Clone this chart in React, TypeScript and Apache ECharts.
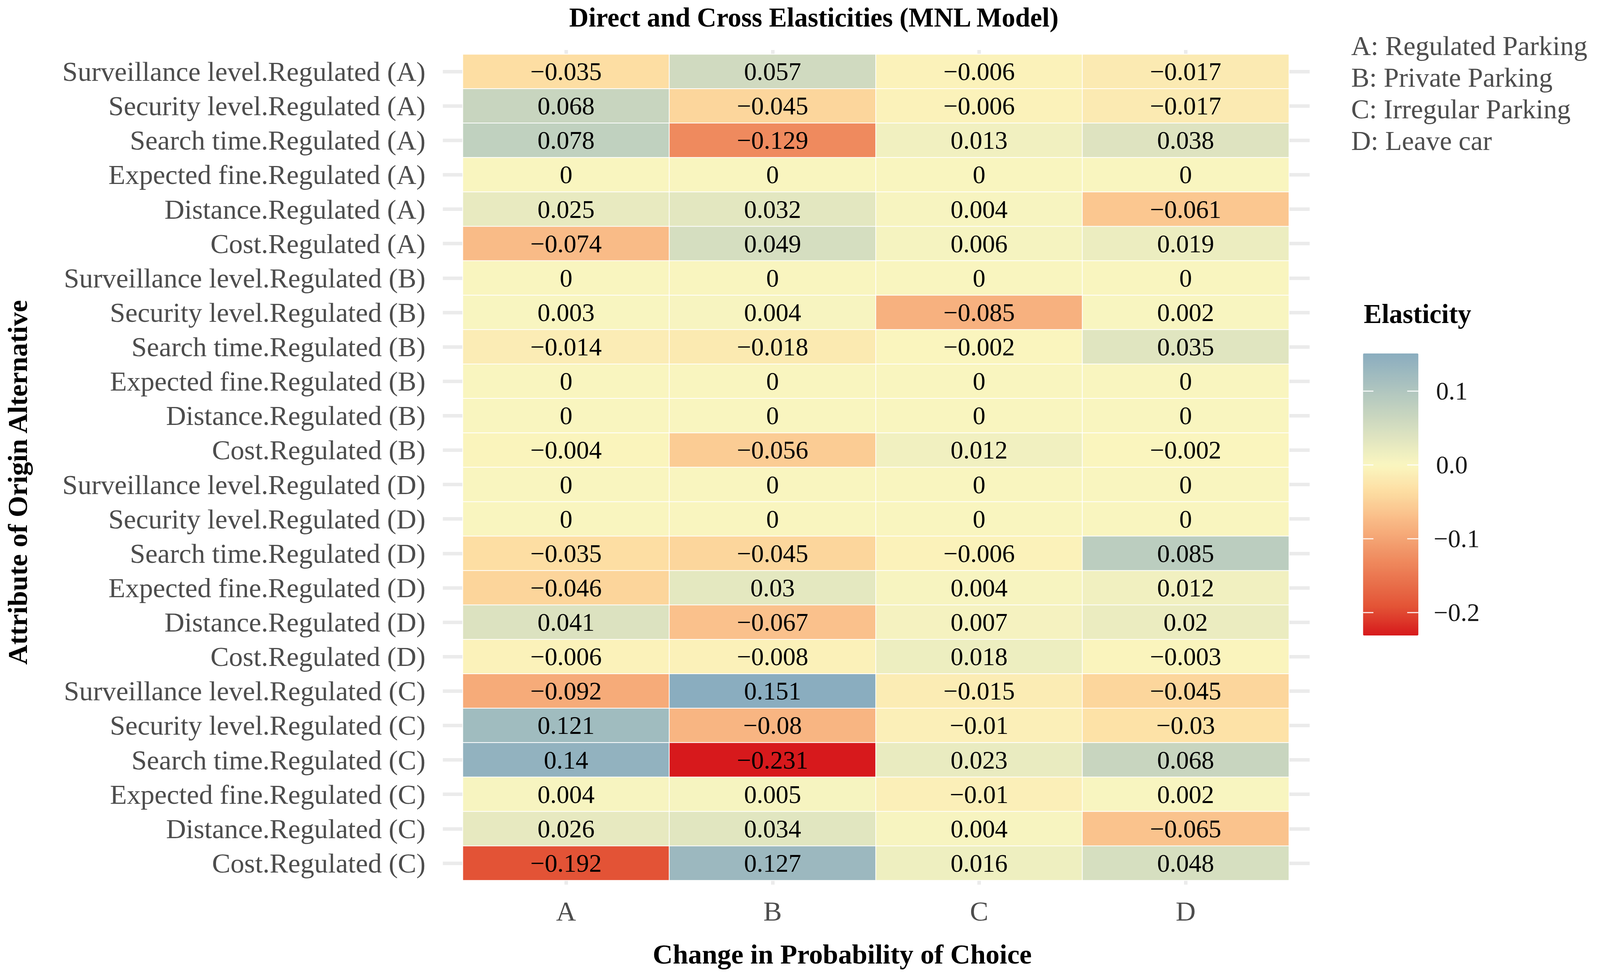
import React, { useEffect, useRef } from "react";
import * as echarts from "echarts";

// ---------------- data ----------------
const columns = ["A", "B", "C", "D"];

const rowLabels = [
  "Surveillance level.Regulated (A)",
  "Security level.Regulated (A)",
  "Search time.Regulated (A)",
  "Expected fine.Regulated (A)",
  "Distance.Regulated (A)",
  "Cost.Regulated (A)",
  "Surveillance level.Regulated (B)",
  "Security level.Regulated (B)",
  "Search time.Regulated (B)",
  "Expected fine.Regulated (B)",
  "Distance.Regulated (B)",
  "Cost.Regulated (B)",
  "Surveillance level.Regulated (D)",
  "Security level.Regulated (D)",
  "Search time.Regulated (D)",
  "Expected fine.Regulated (D)",
  "Distance.Regulated (D)",
  "Cost.Regulated (D)",
  "Surveillance level.Regulated (C)",
  "Security level.Regulated (C)",
  "Search time.Regulated (C)",
  "Expected fine.Regulated (C)",
  "Distance.Regulated (C)",
  "Cost.Regulated (C)",
];

const valuesA = [-0.035, 0.068, 0.078, 0, 0.025, -0.074, 0, 0.003, -0.014, 0, 0, -0.004, 0, 0, -0.035, -0.046, 0.041, -0.006, -0.092, 0.121, 0.14, 0.004, 0.026, -0.192];
const valuesB = [0.057, -0.045, -0.129, 0, 0.032, 0.049, 0, 0.004, -0.018, 0, 0, -0.056, 0, 0, -0.045, 0.03, -0.067, -0.008, 0.151, -0.08, -0.231, 0.005, 0.034, 0.127];
const valuesC = [-0.006, -0.006, 0.013, 0, 0.004, 0.006, 0, -0.085, -0.002, 0, 0, 0.012, 0, 0, -0.006, 0.004, 0.007, 0.018, -0.015, -0.01, 0.023, -0.01, 0.004, 0.016];
const valuesD = [-0.017, -0.017, 0.038, 0, -0.061, 0.019, 0, 0.002, 0.035, 0, 0, -0.002, 0, 0, 0.085, 0.012, 0.02, -0.003, -0.045, -0.03, 0.068, 0.002, -0.065, 0.048];

const legendNotes = ["A: Regulated Parking", "B: Private Parking", "C: Irregular Parking", "D: Leave car"];
const colorbarTicks = [0.1, 0.0, -0.1, -0.2];
const colorbarTickLabels = ["0.1", "0.0", "\u22120.1", "\u22120.2"];

const titleText = "Direct and Cross Elasticities (MNL Model)";
const xTitle = "Change in Probability of Choice";
const yTitle = "Attribute of Origin Alternative";
const legendTitle = "Elasticity";

// ---------------- colour scale (diverging, centred on 0) ----------------
// negative side: stops at fractions of the largest |value|
const NEG_FRAC = [0, 0.15, 0.32, 0.56, 0.83, 1.0];
const NEG_COLORS = ["#faf6c0", "#fddfa3", "#f9bb87", "#ef8a5e", "#e35436", "#d7191c"];
// positive side: linear from the mid colour to this colour at the largest |value|
const MID = "#faf6c0";
const HIGH = "#4f86be";

function hexToRgb(h: string) {
  const n = parseInt(h.slice(1), 16);
  return [(n >> 16) & 255, (n >> 8) & 255, n & 255];
}
function mix(A: number[], B: number[], s: number) {
  return [0, 1, 2].map((k) => A[k] + (B[k] - A[k]) * s);
}
function toHex(c: number[]) {
  return "#" + c.map((v) => Math.max(0, Math.min(255, Math.round(v))).toString(16).padStart(2, "0")).join("");
}
function colorFor(v: number, maxAbs: number) {
  const r = Math.abs(v) / maxAbs;
  if (v >= 0) return toHex(mix(hexToRgb(MID), hexToRgb(HIGH), Math.min(1, r)));
  for (let i = 1; i < NEG_FRAC.length; i++) {
    if (r <= NEG_FRAC[i]) {
      const s = (r - NEG_FRAC[i - 1]) / (NEG_FRAC[i] - NEG_FRAC[i - 1]);
      return toHex(mix(hexToRgb(NEG_COLORS[i - 1]), hexToRgb(NEG_COLORS[i]), s));
    }
  }
  return NEG_COLORS[NEG_COLORS.length - 1];
}

// ---------------- component ----------------
const SERIF = "'Liberation Serif', 'Times New Roman', serif";
const REF_W = 4166;
const REF_H = 2504;

export default function App() {
  const ref = useRef<HTMLDivElement>(null);

  useEffect(() => {
    if (!ref.current) return;
    const W = ref.current.clientWidth || window.innerWidth;
    const H = ref.current.clientHeight || window.innerHeight;
    const sx = W / REF_W;
    const sy = H / REF_H;
    const X = (v: number) => v * sx;
    const Y = (v: number) => v * sy;
    const F = (v: number) => Math.round(v * sx * 10) / 10;

    const chart = echarts.init(ref.current, undefined, { renderer: "svg" });

    const cols = [valuesA, valuesB, valuesC, valuesD];
    const data: number[][] = [];
    cols.forEach((arr, ci) => arr.forEach((v, ri) => data.push([ci, ri, v])));
    const all = cols.flat();
    const vMin = Math.min(...all);
    const vMax = Math.max(...all);
    const maxAbs = Math.max(Math.abs(vMin), Math.abs(vMax));

    const N = 80;
    const stops: string[] = [];
    for (let i = 0; i <= N; i++) stops.push(colorFor(vMin + ((vMax - vMin) * i) / N, maxAbs));

    const gridLeft = X(1205), gridTop = Y(139), gridW = X(2151), gridH = Y(2115);
    const barLeft = X(3549), barTop = Y(905), barW = X(144), barH = Y(722);
    const yOfBar = (v: number) => barTop + ((vMax - v) / (vMax - vMin)) * barH;

    const fmt = (v: number) => (v < 0 ? "\u2212" + String(-v) : String(v));

    const graphics: any[] = [
      {
        type: "text", x: X(2119), y: Y(45),
        style: { text: titleText, font: `bold ${F(70)}px ${SERIF}`, fill: "#000", align: "center", verticalAlign: "middle" },
      },
      {
        type: "text", x: X(2193), y: Y(2443),
        style: { text: xTitle, font: `bold ${F(72)}px ${SERIF}`, fill: "#000", align: "center", verticalAlign: "middle" },
      },
      {
        type: "text", x: X(46), y: Y(1235), rotation: Math.PI / 2,
        style: { text: yTitle, font: `bold ${F(72)}px ${SERIF}`, fill: "#000", align: "center", verticalAlign: "middle" },
      },
      {
        type: "text", x: X(3551), y: Y(804),
        style: { text: legendTitle, font: `bold ${F(70)}px ${SERIF}`, fill: "#000", align: "left", verticalAlign: "middle" },
      },
    ];
    legendNotes.forEach((t, i) => {
      graphics.push({
        type: "text", x: X(3518), y: Y(117 + i * 81),
        style: { text: t, font: `${F(71)}px ${SERIF}`, fill: "#4d4d4d", align: "left", verticalAlign: "middle" },
      });
    });
    colorbarTicks.forEach((v, i) => {
      const y = yOfBar(v);
      graphics.push({
        type: "text", x: X(v < 0 ? 3733 : 3739), y,
        style: { text: colorbarTickLabels[i], font: `${F(66)}px ${SERIF}`, fill: "#1a1a1a", align: "left", verticalAlign: "middle" },
      });
      graphics.push({
        type: "line", z: 100,
        shape: { x1: barLeft, y1: y, x2: barLeft + X(27), y2: y },
        style: { stroke: "#ffffff", lineWidth: 3, opacity: 0.85 },
      });
      graphics.push({
        type: "line", z: 100,
        shape: { x1: barLeft + barW - X(29), y1: y, x2: barLeft + barW, y2: y },
        style: { stroke: "#ffffff", lineWidth: 3, opacity: 0.85 },
      });
    });

    const tickStyle = { color: "#ebebeb", width: 9 };

    chart.setOption({
      animation: false,
      backgroundColor: "#ffffff",
      grid: { left: gridLeft, top: gridTop, width: gridW, height: gridH, containLabel: false },
      xAxis: [
        {
          type: "category", data: columns, position: "bottom",
          axisLine: { show: false },
          axisTick: { show: true, alignWithLabel: true, length: Y(11), lineStyle: tickStyle },
          axisLabel: { margin: Y(43), fontFamily: SERIF, fontSize: F(72), color: "#4d4d4d" },
          splitLine: { show: false },
        },
        {
          type: "category", data: columns, position: "top",
          axisLine: { show: false },
          axisTick: { show: true, alignWithLabel: true, length: Y(11), lineStyle: tickStyle },
          axisLabel: { show: false },
          splitLine: { show: false },
        },
      ],
      yAxis: [
        {
          type: "category", data: rowLabels, inverse: true, position: "left",
          axisLine: { show: false },
          axisTick: { show: true, alignWithLabel: true, length: X(52), lineStyle: tickStyle },
          axisLabel: { margin: X(97), fontFamily: SERIF, fontSize: F(72), color: "#4d4d4d", interval: 0 },
          splitLine: { show: false },
        },
        {
          type: "category", data: rowLabels, inverse: true, position: "right",
          axisLine: { show: false },
          axisTick: { show: true, alignWithLabel: true, length: X(54), lineStyle: tickStyle, interval: 0 },
          axisLabel: { show: false },
          splitLine: { show: false },
        },
      ],
      visualMap: {
        type: "continuous",
        min: vMin,
        max: vMax,
        dimension: 2,
        seriesIndex: 0,
        calculable: false,
        orient: "vertical",
        left: barLeft,
        top: barTop,
        itemWidth: barW,
        itemHeight: barH,
        padding: 0,
        text: null,
        hoverLink: false,
        inRange: { color: stops },
      },
      graphic: graphics,
      series: [
        {
          type: "heatmap",
          xAxisIndex: 0,
          yAxisIndex: 0,
          data,
          itemStyle: { borderColor: "#ffffff", borderWidth: 2 },
          label: {
            show: true,
            formatter: (p: any) => fmt(p.value[2]),
            fontFamily: SERIF,
            fontSize: F(66),
            color: "#000000",
          },
          emphasis: { disabled: true },
        },
      ],
    });

    return () => chart.dispose();
  }, []);

  return (
    <div
      ref={ref}
      style={{ position: "fixed", left: 0, top: 0, width: "100vw", height: "100vh", background: "#fff" }}
    />
  );
}
